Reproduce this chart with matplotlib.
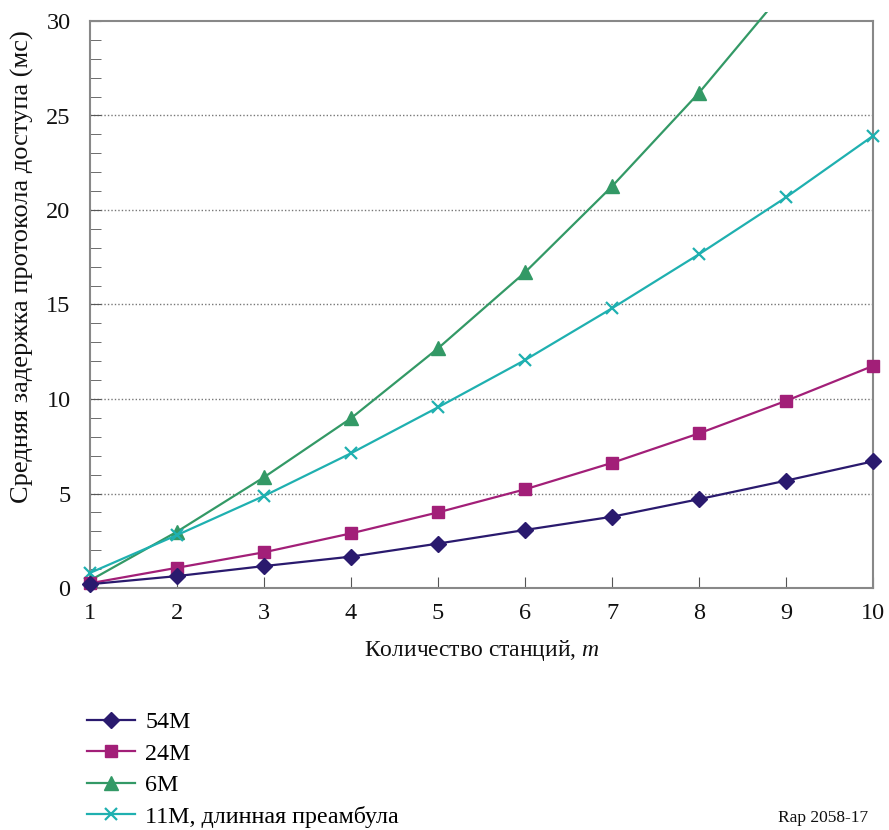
import matplotlib
matplotlib.use("Agg")
import matplotlib.pyplot as plt
from matplotlib.patches import Rectangle
from matplotlib.ticker import MultipleLocator

# ---- data ----
stations = [1, 2, 3, 4, 5, 6, 7, 8, 9, 10]
delay_54m = [0.2, 0.63, 1.16, 1.66, 2.35, 3.07, 3.77, 4.7, 5.68, 6.7]
delay_24m = [0.25, 1.07, 1.89, 2.89, 4.0, 5.22, 6.62, 8.18, 9.9, 11.75]
stations_6m = [1, 2, 3, 4, 5, 6, 7, 8, 9]
delay_6m = [0.4, 2.98, 5.86, 8.98, 12.68, 16.7, 21.25, 26.2, 31.7]
delay_11m = [0.8, 2.8, 4.87, 7.13, 9.56, 12.06, 14.8, 17.66, 20.67, 23.92]

labels = ["54M", "24M", "6M", "11M, длинная преамбула"]
x_ticks = list(range(1, 11))
y_ticks = [0, 5, 10, 15, 20, 25, 30]
x_label = "Количество станций, $\\mathit{m}$"
y_label = "Средняя задержка протокола доступа (мс)"
footnote = "Rap 2058-17"

plt.rcParams['font.family'] = ['Liberation Serif', 'DejaVu Serif']
plt.rcParams['mathtext.fontset'] = 'custom'
plt.rcParams['mathtext.it'] = 'Liberation Serif:italic'

fig = plt.figure(figsize=(8.89, 8.30), dpi=100)
ax = fig.add_axes([90/889, 1-588/830, (873-90)/889, (588-21)/830])

c54 = '#2a1a6e'
c24 = '#a21f78'
c6 = '#339966'
c11 = '#1fb0b0'

l1, = ax.plot(stations, delay_54m, color=c54, lw=1.6, marker='D', ms=8, label=labels[0], zorder=5)
l2, = ax.plot(stations, delay_24m, color=c24, lw=1.6, marker='s', ms=8, label=labels[1], zorder=4)
l3, = ax.plot(stations_6m, delay_6m, color=c6, lw=1.6, marker='^', ms=10, label=labels[2], zorder=3,
              clip_on=True)
l4, = ax.plot(stations, delay_11m, color=c11, lw=1.6, marker='x', ms=9, mew=1.6, label=labels[3], zorder=3)

for ln in (l1, l2, l4):
    ln.set_clip_on(False)
clip = Rectangle((0, -0.05), 1.0, 1.066, transform=ax.transAxes)
l3.set_clip_path(clip)

ax.set_xlim(1, 10)
ax.set_ylim(0, 30)
ax.set_xticks(x_ticks)
ax.set_yticks(y_ticks)
ax.yaxis.set_minor_locator(MultipleLocator(1))
ax.tick_params(axis='both', which='both', direction='in', colors='#555555', labelcolor='#111111',
               labelsize=17.5)
ax.tick_params(axis='x', which='major', length=8, pad=11)
ax.tick_params(axis='y', which='major', length=8, pad=14)
ax.tick_params(axis='y', which='minor', length=8)

for y in y_ticks[1:-1]:
    ax.axhline(y, color='#777777', lw=1.0, ls=(0, (1, 1.5)), zorder=1)

for s in ax.spines.values():
    s.set_color('#888888')
    s.set_linewidth(1.5)

ax.set_xlabel(x_label, fontsize=17, color='#111111', labelpad=10)
ax.set_ylabel(y_label, fontsize=19, color='#111111')
ax.yaxis.set_label_coords(-0.072, 0.566)

fig.legend(handles=[l1, l2, l3, l4], labels=labels, loc='upper left',
           bbox_to_anchor=(77/889, 1-702/830), frameon=False, fontsize=17.3,
           handlelength=2.0, handletextpad=0.45, labelspacing=0.4, borderaxespad=0)

fig.text(868/889, 1-826/830, footnote, ha='right', va='bottom', fontsize=12.5, color='#111111')

fig.savefig("out.png", dpi=100)
